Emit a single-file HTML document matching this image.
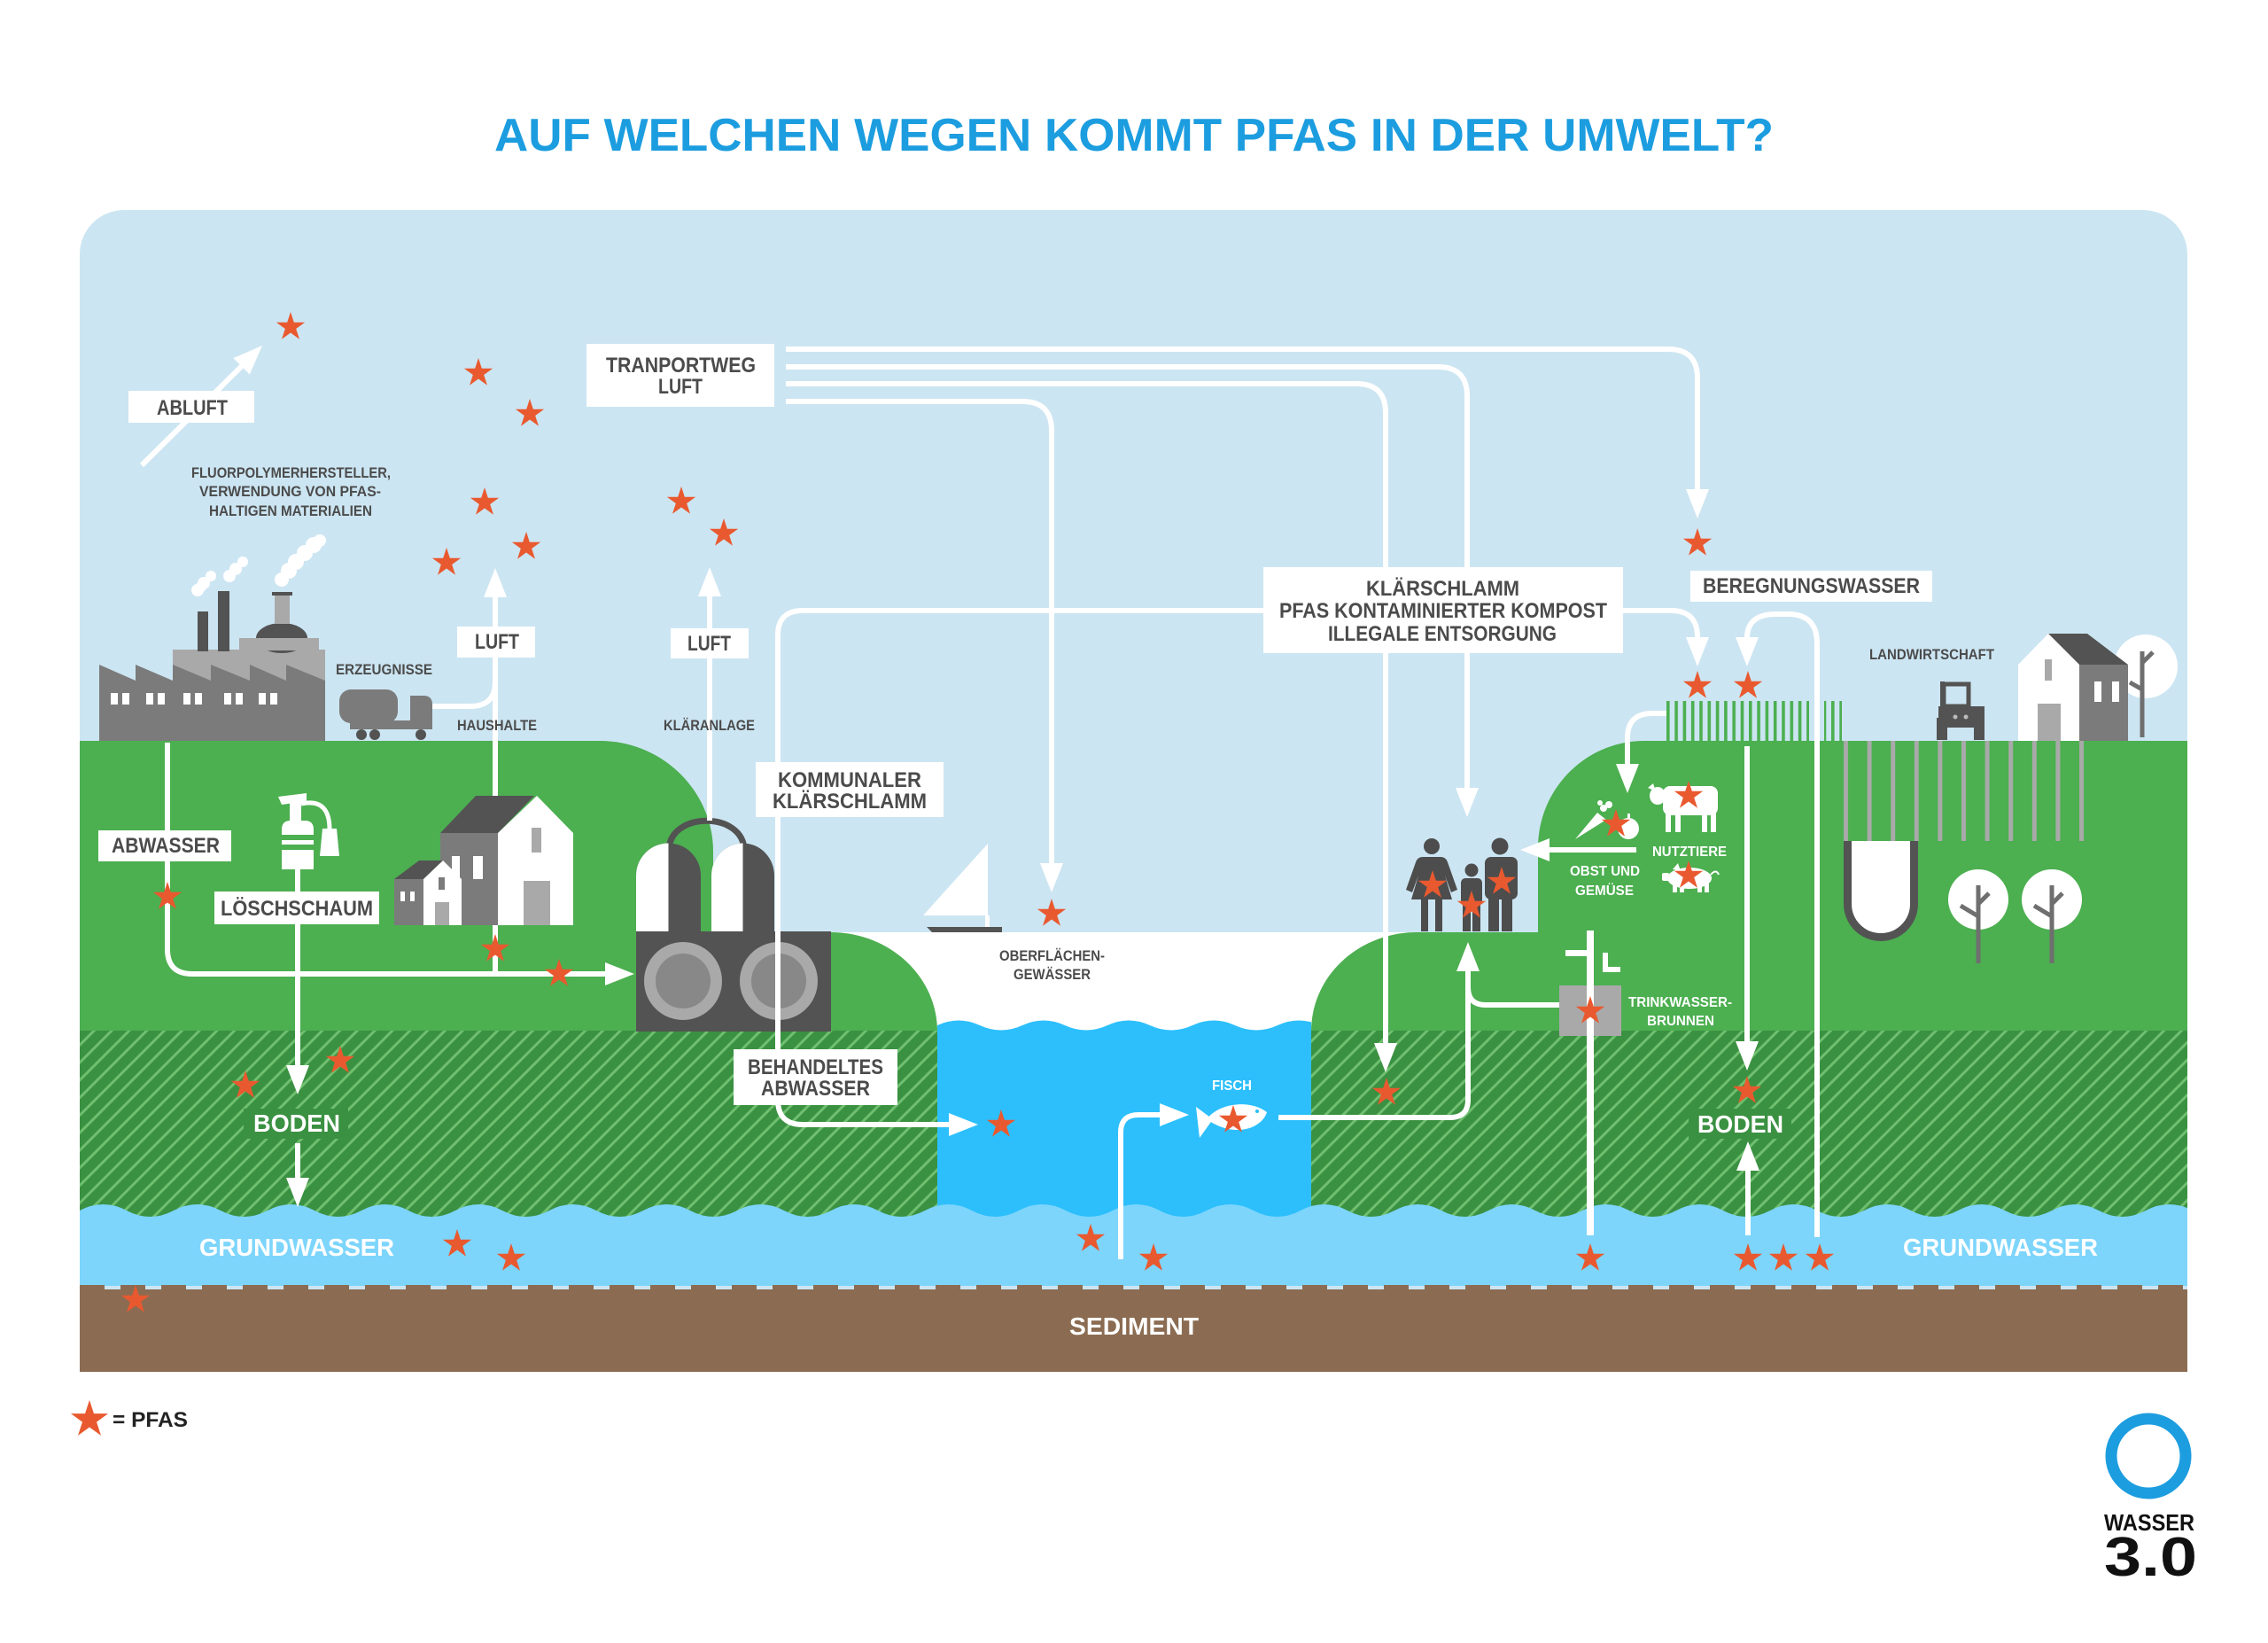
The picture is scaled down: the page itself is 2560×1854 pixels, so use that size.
<!DOCTYPE html>
<html><head><meta charset="utf-8">
<style>
html,body{margin:0;padding:0;background:#fff;}
svg{display:block;}
text{font-family:"Liberation Sans",Arial,sans-serif;font-weight:bold;}
.l{font-size:24px;fill:#4b4b4b;}
.w{font-size:28px;fill:#fff;}
.s{font-size:17px;fill:#4b4b4b;}
.sw{font-size:16px;fill:#fff;}
</style></head><body>
<svg width="2560" height="1854" viewBox="0 0 2560 1854" xmlns="http://www.w3.org/2000/svg">
<defs>
<clipPath id="pc"><path d="M90,1548 V287 A50,50 0 0 1 140,237 H2419 A50,50 0 0 1 2469,287 V1548 Z"/></clipPath>
<pattern id="hatch" width="14" height="14" patternUnits="userSpaceOnUse" patternTransform="rotate(45)"><rect width="14" height="14" fill="#3b9142"/><rect width="3" height="14" fill="#6fbf6f"/></pattern>
<pattern id="gw" x="90" y="1356" width="106" height="24" patternUnits="userSpaceOnUse"><path d="M0,10 Q26.5,-4 53,10 T106,10 V24 H0 Z" fill="#7dd5fc"/></pattern>
<pattern id="rv" x="1058" y="1148" width="96" height="20" patternUnits="userSpaceOnUse"><path d="M0,9 Q24,-2 48,9 T96,9 V20 H0 Z" fill="#2cbffc"/></pattern>
<pattern id="sed" x="90" y="1450" width="46" height="6" patternUnits="userSpaceOnUse"><rect width="28" height="6" fill="#8b6c52"/></pattern>
<pattern id="crop" x="1881" y="0" width="9.3" height="60" patternUnits="userSpaceOnUse"><rect width="3.6" height="60" fill="#4caf50"/></pattern>
<pattern id="orch" x="2081" y="0" width="26.6" height="60" patternUnits="userSpaceOnUse"><rect width="5" height="60" fill="#a9a9a9"/></pattern>
<path id="s" d="M0,-17 L3.82,-5.26 L16.17,-5.25 L6.18,2.01 L9.99,13.75 L0,6.5 L-9.99,13.75 L-6.18,2.01 L-16.17,-5.25 L-3.82,-5.26 Z" fill="#e9592f"/>
</defs>

<!-- Title -->
<text x="558" y="170" font-size="52" fill="#1c9ddf" textLength="1444" lengthAdjust="spacingAndGlyphs">AUF WELCHEN WEGEN KOMMT PFAS IN DER UMWELT?</text>

<g clip-path="url(#pc)">
<!-- sky -->
<rect x="90" y="237" width="2379" height="1311" fill="#cce5f2"/>
<!-- white band above river -->
<rect x="930" y="1052" width="810" height="120" fill="#fff"/>
<!-- hills -->
<path d="M90,836 H677 C748,836 805,893 805,961 V1170 H90 Z" fill="#4caf50"/>
<path d="M900,1052 H938 C1004,1052 1058,1102 1058,1164 V1170 H900 Z" fill="#4caf50"/>
<path d="M1480,1170 V1164 C1480,1100 1535,1052 1599,1052 H1745 V1170 Z" fill="#4caf50"/>
<path d="M1736,1170 V957 C1736,890 1790,836 1856,836 H2469 V1170 Z" fill="#4caf50"/>
<!-- hatched soil -->
<rect x="90" y="1163" width="2379" height="220" fill="url(#hatch)"/>
<!-- river -->
<rect x="1058" y="1148" width="422" height="20" fill="url(#rv)"/>
<rect x="1058" y="1166" width="422" height="214" fill="#2cbffc"/>
<!-- groundwater -->
<rect x="90" y="1356" width="2379" height="24" fill="url(#gw)"/>
<rect x="90" y="1378" width="2379" height="73" fill="#7dd5fc"/>
<!-- sediment -->
<rect x="90" y="1450" width="2379" height="6" fill="url(#sed)"/>
<rect x="90" y="1455" width="2379" height="93" fill="#8b6c52"/>

<!-- BODEN backgrounds -->
<rect x="275" y="1251" width="118" height="34" fill="#3b9142"/>
<rect x="1906" y="1251" width="116" height="34" fill="#3b9142"/>

<!-- crop field & orchard -->
<rect x="1881" y="791" width="198" height="45" fill="url(#crop)"/>
<rect x="2042" y="790" width="17" height="46" fill="#cce5f2"/>
<rect x="2081" y="836" width="272" height="113" fill="url(#orch)"/>

<!-- factory -->
<g>
<rect x="195" y="733" width="172" height="60" fill="#a9a9a9"/>
<rect x="275" y="720" width="82" height="20" fill="#a9a9a9"/>
<ellipse cx="318" cy="720" rx="29" ry="17" fill="#535353"/>
<rect x="270" y="720" width="90" height="14" fill="#a9a9a9"/>
<rect x="310" y="670" width="17" height="34" fill="#a9a9a9"/>
<rect x="307" y="668" width="23" height="4" fill="#535353"/>
<rect x="223" y="690" width="12" height="45" fill="#535353"/>
<rect x="246" y="667" width="13" height="68" fill="#535353"/>
<path d="M112,836 V750 L153,768 V750 L195,768 V750 L238,768 V750 L282,768 V750 L323,768 V750 L367,768 V836 Z" fill="#7b7b7b"/>
<g fill="#fff">
<rect x="125" y="782" width="8" height="13"/><rect x="138" y="782" width="8" height="13"/>
<rect x="165" y="782" width="8" height="13"/><rect x="178" y="782" width="8" height="13"/>
<rect x="207" y="782" width="8" height="13"/><rect x="220" y="782" width="8" height="13"/>
<rect x="253" y="782" width="8" height="13"/><rect x="266" y="782" width="8" height="13"/>
<rect x="292" y="782" width="8" height="13"/><rect x="305" y="782" width="8" height="13"/>
<!-- smoke -->
<circle cx="223" cy="666" r="7"/><circle cx="230" cy="658" r="7"/><circle cx="238" cy="650" r="6"/><circle cx="227" cy="662" r="6"/>
<circle cx="259" cy="650" r="7"/><circle cx="266" cy="642" r="7"/><circle cx="274" cy="634" r="6"/>
<circle cx="318" cy="654" r="8"/><circle cx="326" cy="644" r="9"/><circle cx="334" cy="634" r="9"/><circle cx="344" cy="624" r="9"/><circle cx="354" cy="615" r="9"/><circle cx="361" cy="610" r="7"/>
</g>
</g>
<!-- truck -->
<g fill="#7b7b7b">
<rect x="383" y="778" width="66" height="38" rx="13"/>
<path d="M463,785 H478 Q488,785 488,795 V823 H463 Z"/>
<rect x="395" y="813" width="93" height="10"/>
<circle cx="408" cy="829" r="6" fill="#535353"/><circle cx="423" cy="829" r="6" fill="#535353"/><circle cx="475" cy="829" r="6" fill="#535353"/>
</g>

<!-- plant -->
<g>
<path d="M755,960 C755,915 840,915 840,960" fill="none" stroke="#535353" stroke-width="7"/>
<path d="M718,1052 V988 A36.5,36.5 0 0 1 791,988 V1052 Z" fill="#535353"/>
<path d="M718,1052 V988 A36.5,36.5 0 0 1 754.5,951.5 V1052 Z" fill="#fff"/>
<path d="M803,1052 V988 A35.5,36.5 0 0 1 874,988 V1052 Z" fill="#535353"/>
<path d="M803,1052 V988 A35.5,36.5 0 0 1 838.5,951.5 V1052 Z" fill="#fff"/>
<rect x="718" y="1051" width="220" height="113" fill="#535353"/>
<circle cx="771" cy="1107" r="44" fill="#a9a9a9"/><circle cx="771" cy="1107" r="31" fill="#888"/>
<circle cx="879" cy="1107" r="44" fill="#a9a9a9"/><circle cx="879" cy="1107" r="31" fill="#888"/>
</g>

<!-- boat -->
<polygon points="1115,952 1115,1033 1042,1033" fill="#fff"/>
<rect x="1112" y="1033" width="5" height="14" fill="#fff"/>
<polygon points="1046,1046 1131,1046 1131,1052 1052,1052" fill="#535353"/>

<!-- well box -->
<rect x="1760" y="1112" width="70" height="57" fill="#a9a9a9"/>

<!-- white flow lines -->
<g fill="none" stroke="#fff" stroke-width="6">
<path d="M887,394 H1883 Q1916,394 1916,427 V553"/>
<path d="M887,414 H1623 Q1656,414 1656,447 V890"/>
<path d="M887,433 H1531 Q1564,433 1564,466 V1178"/>
<path d="M887,453 H1154 Q1187,453 1187,486 V975"/>
<path d="M1426,689 H906 Q878,689 878,717 V1241 Q878,1269 906,1269 H1073"/>
<path d="M1832,689 H1886 Q1916,689 1916,719"/>
<path d="M2051,1396 V726 Q2051,693 2018,693 H2005 Q1972,693 1972,720"/>
<path d="M1881,805 H1865 Q1837,805 1837,833 V863"/>
<path d="M1847,959 H1748"/>
<path d="M1972,842 V1176"/>
<path d="M1973,1394 V1320"/>
<path d="M1443,1261 H1637 Q1657,1261 1657,1241 V1095"/>
<path d="M1760,1134 H1677 Q1657,1134 1657,1114"/>
<path d="M1265,1421 V1278 Q1265,1258 1285,1258 H1310"/>
<path d="M801,926 V673"/>
<path d="M189,838 V1071 Q189,1099 217,1099 H685"/>
<path d="M336,981 V1204"/>
<path d="M336,1290 V1331"/>
<path d="M559,1099 V673"/>
<path d="M488,797 H531 Q559,797 559,769"/>
<path d="M160,525 L273,413"/>
</g>
<!-- arrowheads -->
<g fill="#fff">
<polygon points="1903,552 1929,552 1916,585"/>
<polygon points="1643,889 1669,889 1656,922"/>
<polygon points="1551,1177 1577,1177 1564,1210"/>
<polygon points="1174,974 1200,974 1187,1007"/>
<polygon points="1903,719 1929,719 1916,752"/>
<polygon points="1959,719 1985,719 1972,752"/>
<polygon points="1824,862 1850,862 1837,895"/>
<polygon points="1749,946 1749,972 1716,959"/>
<polygon points="1959,1175 1985,1175 1972,1208"/>
<polygon points="1960,1321 1986,1321 1973,1288"/>
<polygon points="1644,1096 1670,1096 1657,1063"/>
<polygon points="1309,1245 1309,1271 1342,1258"/>
<polygon points="1071,1256 1071,1282 1104,1269"/>
<polygon points="683,1086 683,1112 716,1099"/>
<polygon points="323,1202 349,1202 336,1235"/>
<polygon points="323,1329 349,1329 336,1362"/>
<polygon points="546,674 572,674 559,641"/>
<polygon points="788,673 814,673 801,640"/>
<polygon points="281.8,422.5 263.4,404.1 296,390"/>
</g>

<!-- well pipe -->
<g fill="#fff">
<rect x="1791" y="1050" width="8" height="344"/>
<rect x="1767" y="1072" width="30" height="7"/>
<rect x="1809" y="1075" width="6" height="22"/>
<rect x="1809" y="1091" width="20" height="6"/>
</g>

<!-- extinguisher -->
<g fill="#fff">
<path d="M318,936 Q318,926 328,926 H344 Q354,926 354,936 V981 H318 Z"/>
<rect x="327" y="905" width="13" height="22"/>
<polygon points="314,899 346,895 346,904 318,908"/>
<rect x="329" y="897" width="9" height="10"/>
<polygon points="364,935 380,935 383,966 361,966"/>
</g>
<path d="M340,907 C364,902 372,915 372,936" fill="none" stroke="#fff" stroke-width="5"/>
<rect x="318" y="942" width="36" height="6" fill="#4caf50"/>
<rect x="318" y="953" width="36" height="6" fill="#4caf50"/>

<!-- houses left -->
<g>
<rect x="497" y="940" width="66" height="104" fill="#7b7b7b"/>
<polygon points="497,940 537,898 603,898 562,940" fill="#535353"/>
<polygon points="562,940 606,898 647,940 647,1044 562,1044" fill="#fff"/>
<rect x="600" y="934" width="11" height="28" fill="#a9a9a9"/>
<rect x="591" y="994" width="30" height="50" fill="#a9a9a9"/>
<rect x="510" y="966" width="9" height="26" fill="#fff"/>
<rect x="534" y="966" width="11" height="26" fill="#fff"/>
<rect x="445" y="992" width="34" height="52" fill="#7b7b7b"/>
<polygon points="445,992 473,971 500,971 478,992" fill="#535353"/>
<polygon points="478,992 500,971 521,992 521,1044 478,1044" fill="#fff"/>
<rect x="452" y="1006" width="5" height="11" fill="#fff"/>
<rect x="463" y="1006" width="5" height="11" fill="#fff"/>
<rect x="495" y="990" width="7" height="14" fill="#7b7b7b"/>
<rect x="491" y="1018" width="16" height="26" fill="#a9a9a9"/>
</g>

<!-- family -->
<g fill="#4d4d4d">
<circle cx="1616" cy="955" r="9"/>
<path d="M1606,967 H1626 Q1632,967 1634,973 L1645,1004 L1638,1007 L1631,988 L1639,1015 H1593 L1601,988 L1594,1007 L1587,1004 L1598,973 Q1600,967 1606,967 Z"/>
<rect x="1604" y="1012" width="8" height="39"/><rect x="1620" y="1012" width="8" height="39"/>
<circle cx="1661" cy="982" r="7.5"/>
<rect x="1649" y="991" width="24" height="30" rx="5"/>
<rect x="1651" y="1018" width="9" height="33"/><rect x="1662" y="1018" width="9" height="33"/>
<circle cx="1693" cy="955" r="9.5"/>
<rect x="1676" y="967" width="37" height="48" rx="7"/>
<rect x="1680" y="1010" width="12" height="41"/><rect x="1695" y="1010" width="12" height="41"/>
</g>

<!-- produce, cow, pig -->
<g fill="#fff">
<polygon points="1778,947 1803,917 1813,925"/>
<circle cx="1810" cy="912" r="4"/><circle cx="1816" cy="908" r="4"/><circle cx="1806" cy="906" r="3"/>
<circle cx="1838" cy="935" r="12"/>
<rect x="1837" y="918" width="3" height="7"/>
<rect x="1877" y="887" width="62" height="33" rx="8"/>
<ellipse cx="1871" cy="898" rx="9" ry="10"/>
<polygon points="1860,889 1866,884 1869,893"/>
<rect x="1880" y="912" width="6" height="27"/><rect x="1891" y="912" width="6" height="27"/>
<rect x="1921" y="912" width="6" height="27"/><rect x="1931" y="912" width="6" height="27"/>
<ellipse cx="1907" cy="991" rx="25" ry="12"/>
<rect x="1876" y="985" width="8" height="9" rx="2"/>
<polygon points="1888,981 1894,974 1897,983"/>
<rect x="1888" y="997" width="5" height="10"/><rect x="1896" y="997" width="5" height="10"/>
<rect x="1916" y="997" width="5" height="10"/><rect x="1924" y="997" width="5" height="10"/>
</g>
<path d="M1931,987 q6,-7 9,0" fill="none" stroke="#fff" stroke-width="2"/>

<!-- fish -->
<g fill="#fff">
<path d="M1362,1263 C1375,1245 1410,1240 1430,1255 C1425,1272 1395,1286 1362,1263 Z"/>
<polygon points="1350,1249 1369,1263 1354,1284"/>
</g>
<circle cx="1419" cy="1254" r="2" fill="#2cbffc"/>

<!-- tractor -->
<g fill="#535353">
<rect x="2188" y="797" width="52" height="24"/>
<rect x="2186" y="810" width="12" height="25"/>
<rect x="2228" y="810" width="12" height="25"/>
<rect x="2190" y="769" width="5" height="30"/>
</g>
<rect x="2194" y="772" width="28" height="25" fill="none" stroke="#535353" stroke-width="5"/>
<circle cx="2207" cy="809" r="2.5" fill="#bbb"/><circle cx="2219" cy="809" r="2.5" fill="#bbb"/>

<!-- right house & tree -->
<circle cx="2422" cy="752" r="36" fill="#fff"/>
<g stroke="#6f6f6f" stroke-width="5" fill="none">
<path d="M2418,735 V832"/><path d="M2418,748 L2430,736"/><path d="M2404,770 L2418,778"/>
</g>
<rect x="2347" y="750" width="55" height="86" fill="#7b7b7b"/>
<polygon points="2312,715 2356,715 2402,750 2347,750" fill="#535353"/>
<polygon points="2278,750 2312,715 2347,750 2347,836 2278,836" fill="#fff"/>
<rect x="2308" y="744" width="8" height="24" fill="#a9a9a9"/>
<rect x="2300" y="794" width="26" height="42" fill="#a9a9a9"/>
<rect x="2364" y="769" width="8" height="23" fill="#fff"/>
<rect x="2384" y="769" width="8" height="23" fill="#fff"/>

<!-- U container -->
<path d="M2085.5,949 V1020 A37.5,37.5 0 0 0 2160.5,1020 V949 Z" fill="#fff"/>
<path d="M2085.5,949 V1020 A37.5,37.5 0 0 0 2160.5,1020 V949" fill="none" stroke="#535353" stroke-width="9"/>

<!-- trees lower right -->
<circle cx="2233" cy="1015" r="34" fill="#fff"/>
<circle cx="2316" cy="1015" r="34" fill="#fff"/>
<g stroke="#6f6f6f" stroke-width="5" fill="none">
<path d="M2233,999 V1087"/><path d="M2213,1022 L2233,1034"/><path d="M2233,1020 L2245,1008"/>
<path d="M2316,999 V1087"/><path d="M2296,1022 L2316,1034"/><path d="M2316,1020 L2328,1008"/>
</g>
</g>

<!-- label boxes -->
<g fill="#fff">
<rect x="662" y="388" width="212" height="71"/>
<rect x="145" y="441" width="142" height="36"/>
<rect x="516" y="707" width="88" height="35"/>
<rect x="757" y="709" width="88" height="34"/>
<rect x="853" y="860" width="212" height="62"/>
<rect x="1426" y="640" width="406" height="97"/>
<rect x="1908" y="644" width="273" height="35"/>
<rect x="111" y="937" width="150" height="35"/>
<rect x="242" y="1006" width="186" height="37"/>
<rect x="828" y="1184" width="185" height="63"/>
</g>

<!-- label texts -->
<text class="l" x="684" y="420" textLength="169" lengthAdjust="spacingAndGlyphs">TRANPORTWEG</text>
<text class="l" x="743" y="444" textLength="50" lengthAdjust="spacingAndGlyphs">LUFT</text>
<text class="l" x="177" y="468" textLength="80" lengthAdjust="spacingAndGlyphs">ABLUFT</text>
<text class="l" x="536" y="732" textLength="50" lengthAdjust="spacingAndGlyphs">LUFT</text>
<text class="l" x="776" y="734" textLength="49" lengthAdjust="spacingAndGlyphs">LUFT</text>
<text class="l" x="878" y="888" textLength="162" lengthAdjust="spacingAndGlyphs">KOMMUNALER</text>
<text class="l" x="872" y="912" textLength="174" lengthAdjust="spacingAndGlyphs">KLÄRSCHLAMM</text>
<text class="l" x="1542" y="672" textLength="173" lengthAdjust="spacingAndGlyphs">KLÄRSCHLAMM</text>
<text class="l" x="1444" y="697" textLength="370" lengthAdjust="spacingAndGlyphs">PFAS KONTAMINIERTER KOMPOST</text>
<text class="l" x="1499" y="723" textLength="258" lengthAdjust="spacingAndGlyphs">ILLEGALE ENTSORGUNG</text>
<text class="l" x="1922" y="669" textLength="245" lengthAdjust="spacingAndGlyphs">BEREGNUNGSWASSER</text>
<text class="l" x="126" y="962" textLength="122" lengthAdjust="spacingAndGlyphs">ABWASSER</text>
<text class="l" x="249" y="1033" textLength="172" lengthAdjust="spacingAndGlyphs">LÖSCHSCHAUM</text>
<text class="l" x="844" y="1212" textLength="153" lengthAdjust="spacingAndGlyphs">BEHANDELTES</text>
<text class="l" x="859" y="1236" textLength="123" lengthAdjust="spacingAndGlyphs">ABWASSER</text>

<text class="w" x="286" y="1277" textLength="98" lengthAdjust="spacingAndGlyphs">BODEN</text>
<text class="w" x="1916" y="1278" textLength="97" lengthAdjust="spacingAndGlyphs">BODEN</text>
<text class="w" x="225" y="1417" textLength="220" lengthAdjust="spacingAndGlyphs">GRUNDWASSER</text>
<text class="w" x="2148" y="1417" textLength="220" lengthAdjust="spacingAndGlyphs">GRUNDWASSER</text>
<text class="w" x="1207" y="1506" textLength="146" lengthAdjust="spacingAndGlyphs">SEDIMENT</text>

<text class="s" x="216" y="539" textLength="225" lengthAdjust="spacingAndGlyphs">FLUORPOLYMERHERSTELLER,</text>
<text class="s" x="225" y="560" textLength="205" lengthAdjust="spacingAndGlyphs">VERWENDUNG VON PFAS-</text>
<text class="s" x="236" y="582" textLength="184" lengthAdjust="spacingAndGlyphs">HALTIGEN MATERIALIEN</text>
<text class="s" x="379" y="761" textLength="109" lengthAdjust="spacingAndGlyphs">ERZEUGNISSE</text>
<text class="s" x="516" y="824" textLength="90" lengthAdjust="spacingAndGlyphs">HAUSHALTE</text>
<text class="s" x="749" y="824" textLength="103" lengthAdjust="spacingAndGlyphs">KLÄRANLAGE</text>
<text class="s" x="1128" y="1084" textLength="119" lengthAdjust="spacingAndGlyphs">OBERFLÄCHEN-</text>
<text class="s" x="1144" y="1105" textLength="87" lengthAdjust="spacingAndGlyphs">GEWÄSSER</text>
<text class="s" x="2110" y="744" textLength="141" lengthAdjust="spacingAndGlyphs">LANDWIRTSCHAFT</text>

<text class="sw" x="1368" y="1230" textLength="45" lengthAdjust="spacingAndGlyphs">FISCH</text>
<text class="sw" x="1838" y="1136" textLength="117" lengthAdjust="spacingAndGlyphs">TRINKWASSER-</text>
<text class="sw" x="1859" y="1157" textLength="76" lengthAdjust="spacingAndGlyphs">BRUNNEN</text>
<text class="sw" x="1772" y="988" textLength="79" lengthAdjust="spacingAndGlyphs">OBST UND</text>
<text class="sw" x="1778" y="1010" textLength="66" lengthAdjust="spacingAndGlyphs">GEMÜSE</text>
<text class="sw" x="1865" y="966" textLength="84" lengthAdjust="spacingAndGlyphs">NUTZTIERE</text>

<!-- stars -->
<g>
<use href="#s" x="328" y="369"/><use href="#s" x="540" y="421"/><use href="#s" x="598" y="467"/>
<use href="#s" x="547" y="567"/><use href="#s" x="594" y="617"/><use href="#s" x="504" y="635"/>
<use href="#s" x="769" y="566"/><use href="#s" x="817" y="602"/><use href="#s" x="1916" y="613"/>
<use href="#s" x="1187" y="1031"/><use href="#s" x="1916" y="774"/><use href="#s" x="1973" y="774"/>
<use href="#s" x="189" y="1012"/><use href="#s" x="559" y="1071"/><use href="#s" x="631" y="1099"/>
<use href="#s" x="277" y="1225"/><use href="#s" x="384" y="1197"/><use href="#s" x="1130" y="1269"/>
<use href="#s" x="1565" y="1233"/><use href="#s" x="1972" y="1231"/><use href="#s" x="1795" y="1141"/>
<use href="#s" x="516" y="1404"/><use href="#s" x="577" y="1420"/><use href="#s" x="1231" y="1398"/>
<use href="#s" x="1302" y="1420"/><use href="#s" x="1795" y="1420"/><use href="#s" x="1973" y="1420"/>
<use href="#s" x="2013" y="1420"/><use href="#s" x="2054" y="1420"/><use href="#s" x="153" y="1467"/>
<use href="#s" x="1617" y="999"/><use href="#s" x="1661" y="1022"/><use href="#s" x="1695" y="995"/>
<use href="#s" x="1824" y="930"/><use href="#s" x="1906" y="898"/><use href="#s" x="1906" y="988"/>
<use href="#s" x="1392" y="1264"/>
</g>

<!-- legend -->
<use href="#s" transform="translate(101,1602) scale(1.3)"/>
<text x="127" y="1610" font-size="24" fill="#222" textLength="85" lengthAdjust="spacingAndGlyphs">= PFAS</text>

<!-- logo -->
<circle cx="2425" cy="1643" r="42" fill="none" stroke="#1c9ddf" stroke-width="13"/>
<circle cx="2429" cy="1641" r="42" fill="none" stroke="#1c9ddf" stroke-width="4"/>
<text x="2375" y="1727" font-size="26" fill="#111" textLength="102" lengthAdjust="spacingAndGlyphs">WASSER</text>
<text x="2375" y="1778" font-size="62" fill="#111" textLength="105" lengthAdjust="spacingAndGlyphs">3.0</text>
</svg>
</body></html>
